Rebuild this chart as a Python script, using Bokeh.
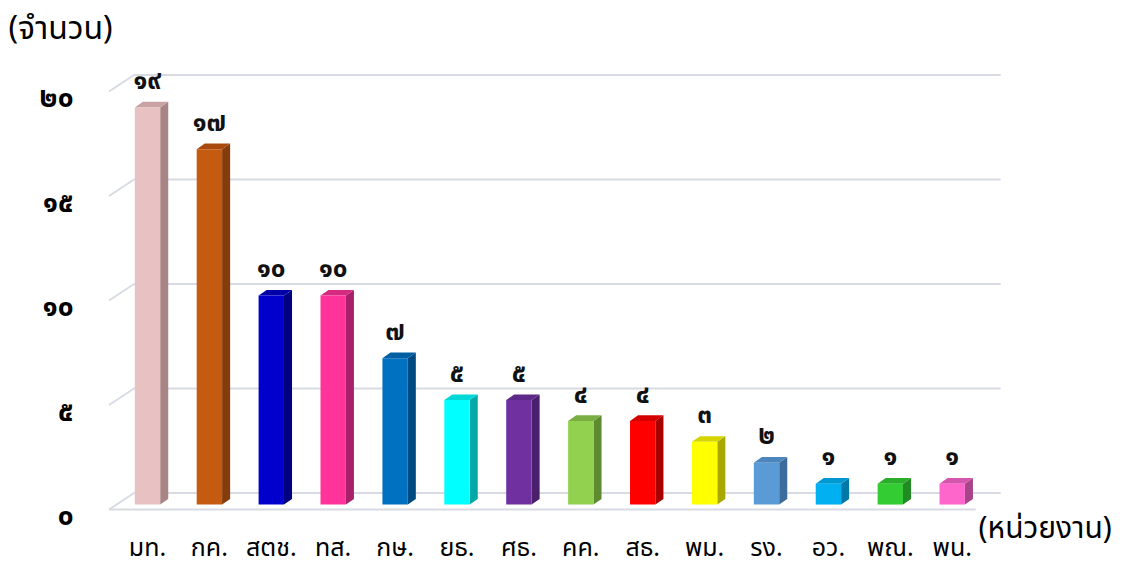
from bokeh.plotting import figure
from bokeh.models import Range1d, ColumnDataSource
from bokeh.core.properties import value
from bokeh.embed import file_html
from bokeh.resources import INLINE

# ---- data ----
categories = ["มท.", "กค.", "สตช.", "ทส.", "กษ.", "ยธ.", "ศธ.", "คค.", "สธ.", "พม.", "รง.", "อว.", "พณ.", "พน."]
counts = [19, 17, 10, 10, 7, 5, 5, 4, 4, 3, 2, 1, 1, 1]
y_ticks = [0, 5, 10, 15, 20]
front_colors = ["#E8C2C2", "#C55A11", "#0000CC", "#FF3399", "#0070C0", "#00FFFF", "#7030A0",
                "#92D050", "#FF0000", "#FFFF00", "#5B9BD5", "#00B0F0", "#33CC33", "#FF66CC"]
side_colors = ["#A88484", "#843C0C", "#000080", "#A8206A", "#004A82", "#00A8A8", "#4A1F6C",
               "#5E8A30", "#A80000", "#A8A800", "#3B6C9C", "#0078A8", "#228A22", "#A84488"]
top_colors = ["#C9A3A3", "#A84A0E", "#0000A8", "#D42A80", "#005EA2", "#00D8D8", "#5E2888",
              "#7AAE42", "#D40000", "#D4D400", "#4C86BC", "#0098D0", "#2AAE2A", "#D456AC"]
y_title = "(จำนวน)"
x_title = "(หน่วยงาน)"

THAI = "๐๑๒๓๔๕๖๗๘๙"


def th(n):
    return "".join(THAI[int(c)] for c in str(n))


FONT = "Tahoma, 'Noto Sans Thai', 'Noto Sans', sans-serif"

# ---- geometry (3D floor depth in data units) ----
depth_x, depth_y = 0.404, 0.789      # full floor depth
bar_off_x, bar_off_y = 0.121, 0.237   # bars' front plane
side_x, side_y = 0.13, 0.27           # bar depth
half_w = 0.205

p = figure(width=1122, height=567,
           x_range=Range1d(-2.2536, 15.872), y_range=Range1d(-2.775, 24.354),
           output_backend="svg", toolbar_location=None,
           x_axis_location=None, y_axis_location=None,
           min_border_left=0, min_border_right=0, min_border_top=0, min_border_bottom=0)
p.outline_line_color = None
p.grid.visible = False
p.background_fill_color = "white"

# ---- gridlines / floor ----
n = len(categories)
x_left, x_right = -0.5, n - 0.5
grid_col = "#D9DBE4"
for t in y_ticks:
    p.line([x_left, x_left + depth_x, x_right + depth_x], [t, t + depth_y, t + depth_y],
           line_color=grid_col, line_width=2)
p.line([x_left, x_right], [0, 0], line_color=grid_col, line_width=2)

# ---- 3D bars ----
xs = [i + bar_off_x for i in range(n)]
xl = [x - half_w for x in xs]
xr = [x + half_w for x in xs]
yb = bar_off_y
yt = [c + bar_off_y for c in counts]

side_xs = [[r, r + side_x, r + side_x, r] for r in xr]
side_ys = [[yb, yb + side_y, t + side_y, t] for t in yt]
top_xs = [[l, l + side_x, r + side_x, r] for l, r in zip(xl, xr)]
top_ys = [[t, t + side_y, t + side_y, t] for t in yt]

p.patches(side_xs, side_ys, fill_color=side_colors, line_color=None)
p.patches(top_xs, top_ys, fill_color=top_colors, line_color=None)
p.quad(left=xl, right=xr, bottom=yb, top=yt, fill_color=front_colors, line_color=None)

# ---- value labels ----
src = ColumnDataSource(dict(x=xs, y=[c + 1.5 for c in counts], t=[th(c) for c in counts]))
p.text(x="x", y="y", text="t", source=src, text_align="center", text_baseline="middle",
       text_font=value(FONT), text_font_size="26px", text_font_style="bold", text_color="#111111")

# ---- y tick labels ----
ysrc = ColumnDataSource(dict(x=[-1.074] * len(y_ticks), y=[t - 0.335 for t in y_ticks],
                             t=[th(t) for t in y_ticks]))
p.text(x="x", y="y", text="t", source=ysrc, text_align="right", text_baseline="middle",
       text_font=value(FONT), text_font_size="28px", text_font_style="bold", text_color="black")

# ---- category labels ----
csrc = ColumnDataSource(dict(x=xs, y=[-1.82] * n, t=categories))
p.text(x="x", y="y", text="t", source=csrc, text_align="center", text_baseline="middle",
       text_font=value(FONT), text_font_size="25px", text_color="black")

# ---- axis titles ----
p.text(x=[-2.124], y=[23.01], text=[y_title], text_align="left", text_baseline="middle",
       text_font=value(FONT), text_font_size="32px", text_color="black")
p.text(x=[13.546], y=[-0.909], text=[x_title], text_align="left", text_baseline="middle",
       text_font=value(FONT), text_font_size="30px", text_color="black")

open("out.html", "w").write(file_html(p, INLINE))
